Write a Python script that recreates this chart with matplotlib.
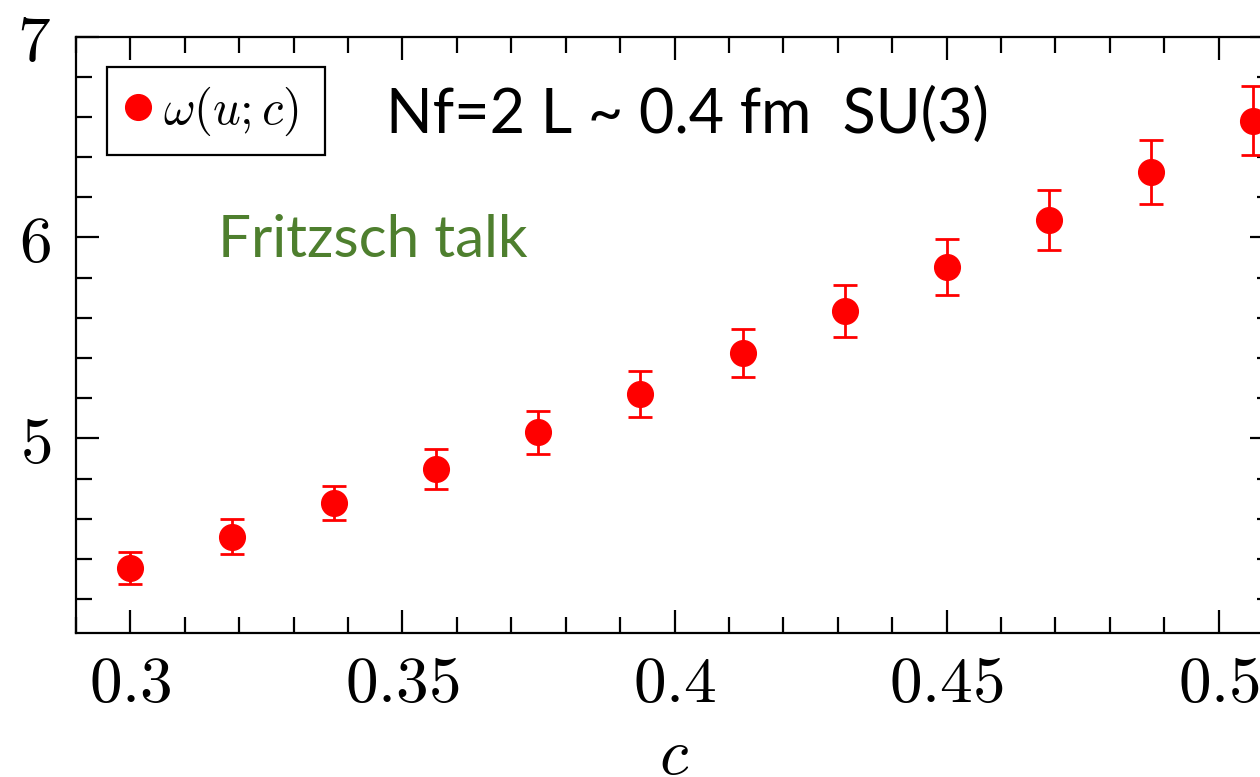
import matplotlib
matplotlib.use("Agg")
import matplotlib.pyplot as plt
from matplotlib.ticker import MultipleLocator, FixedLocator, FixedFormatter

# ---- data ----
c_vals = [0.3, 0.31875, 0.3375, 0.35625, 0.375, 0.39375, 0.4125, 0.43125,
          0.45, 0.46875, 0.4875, 0.50625]
omega_vals = [4.356, 4.510, 4.678, 4.846, 5.031, 5.220, 5.423, 5.633,
              5.854, 6.086, 6.326, 6.581]
omega_err = [0.080, 0.088, 0.087, 0.100, 0.107, 0.114, 0.120, 0.131,
             0.139, 0.150, 0.161, 0.173]
xtick_vals = [0.3, 0.35, 0.4, 0.45, 0.5]
xtick_labels = ["0.3", "0.35", "0.4", "0.45", "0.5"]
ytick_vals = [5, 6, 7]
ytick_labels = ["5", "6", "7"]
legend_label = r"$\omega(u;c)$"
xlabel = r"$c$"
title_text = "Nf=2 L ~ 0.4 fm  SU(3)"
note_text = "Fritzsch talk"

plt.rcParams["mathtext.fontset"] = "cm"

W, H = 1260, 777
fig = plt.figure(figsize=(W / 100, H / 100), dpi=100)
fig.patch.set_facecolor("white")

# axes extends past the right edge of the figure (cropped as in reference)
ax_l, ax_r, ax_t, ax_b = 76, 1273, 36.5, 633
ax = fig.add_axes([ax_l / W, 1 - ax_b / H, (ax_r - ax_l) / W, (ax_b - ax_t) / H])

eb = ax.errorbar(c_vals, omega_vals, yerr=omega_err, fmt="o", color="#ff0000",
                 ecolor="#ff0000", markersize=18.5, elinewidth=2.0,
                 capsize=8.3, capthick=2.0, clip_on=False, zorder=3)

ax.set_xlim(0.29, 0.51)
ax.set_ylim(4.031, 7.0)

lw = 1.6
for s in ax.spines.values():
    s.set_linewidth(lw)
    s.set_color("black")

ax.xaxis.set_major_locator(FixedLocator(xtick_vals))
ax.xaxis.set_major_formatter(FixedFormatter(["$%s$" % s for s in xtick_labels]))
ax.yaxis.set_major_locator(FixedLocator(ytick_vals))
ax.yaxis.set_major_formatter(FixedFormatter(["$%s$" % s for s in ytick_labels]))
ax.xaxis.set_minor_locator(MultipleLocator(0.01))
ax.yaxis.set_minor_locator(MultipleLocator(0.2))

ax.tick_params(which="both", direction="in", top=True, right=True,
               width=lw, color="black")
ax.tick_params(which="major", length=16.5)
ax.tick_params(which="minor", length=11.5)
ax.tick_params(axis="x", which="major", labelsize=47, pad=14)
ax.tick_params(axis="y", which="major", labelsize=47, pad=18)

ax.set_xlabel(xlabel, fontsize=47)
ax.xaxis.set_label_coords(0.5, -0.152)

leg = ax.legend([eb[0]], [legend_label], loc="upper left",
                bbox_to_anchor=(107 / W, 1 - 152 / H, 218 / W, 85 / H),
                bbox_transform=fig.transFigure, borderaxespad=0, mode="expand",
                fancybox=False, framealpha=1, edgecolor="black",
                fontsize=35, handlelength=0.55, handletextpad=0.25,
                borderpad=0.36, markerscale=1.0)
leg.get_frame().set_linewidth(lw)

fig.text(386 / W, 1 - 133 / H, title_text, fontsize=44, family="Lato",
         color="black", ha="left", va="baseline")
fig.text(218 / W, 1 - 257 / H, note_text, fontsize=42, family="Lato",
         color="#4e7f2e", ha="left", va="baseline")

fig.savefig("out.png", dpi=100)
